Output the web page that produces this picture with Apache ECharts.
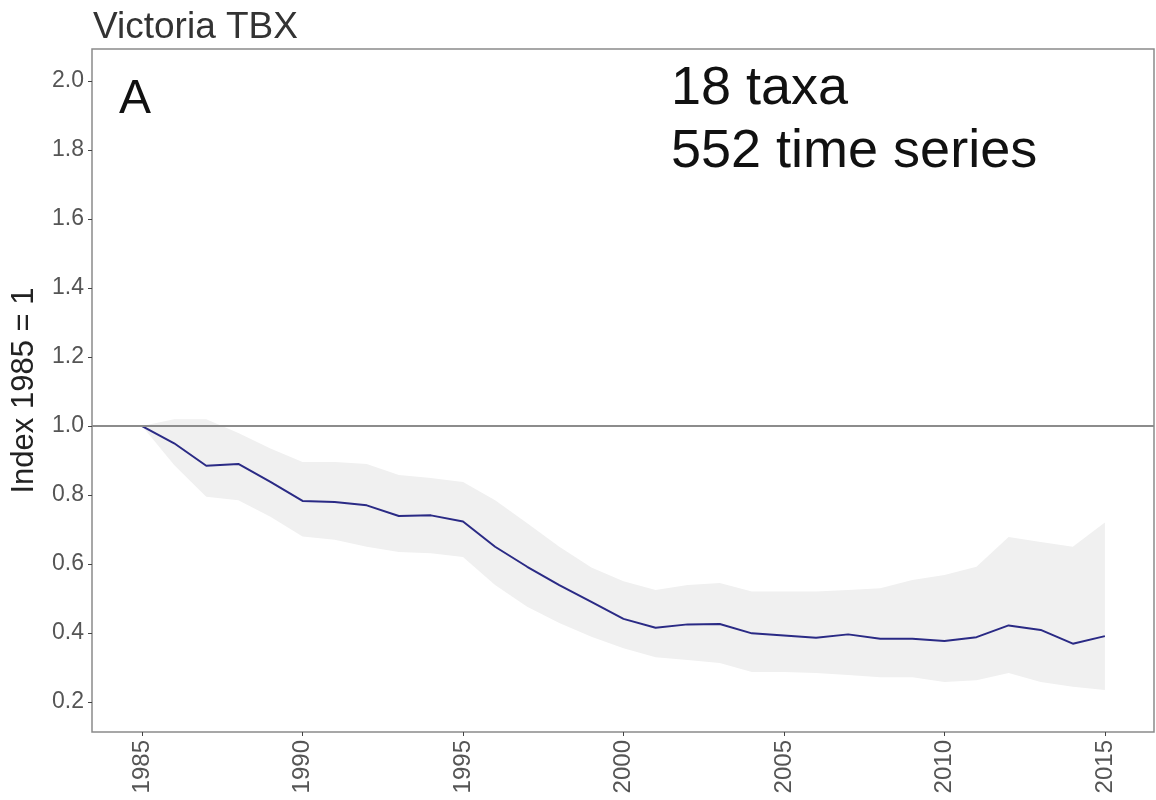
<!DOCTYPE html>
<html>
<head>
<meta charset="utf-8">
<title>Victoria TBX</title>
<script src="https://cdn.jsdelivr.net/npm/echarts@6/dist/echarts.min.js"></script>
<style>
  html, body { margin: 0; padding: 0; background: #fff; }
  #main { width: 1156px; height: 800px; }
</style>
</head>
<body>
<div id="main"></div>
<script>
// years of the index
var years = [1985, 1986, 1987, 1988, 1989, 1990, 1991, 1992, 1993, 1994, 1995,
  1996, 1997, 1998, 1999, 2000, 2001, 2002, 2003, 2004, 2005,
  2006, 2007, 2008, 2009, 2010, 2011, 2012, 2013, 2014, 2015]
// index value (1985 = 1)
var indexValues = [1.0, 0.95, 0.885, 0.89, 0.838, 0.783, 0.78, 0.77, 0.739, 0.741, 0.723,
  0.65, 0.592, 0.539, 0.49, 0.441, 0.415, 0.425, 0.426, 0.399, 0.393,
  0.386, 0.396, 0.383, 0.383, 0.377, 0.388, 0.422, 0.409, 0.369, 0.391]
// confidence band
var upperValues = [1.0, 1.02, 1.02, 0.98, 0.935, 0.896, 0.896, 0.89, 0.858, 0.849, 0.838,
  0.785, 0.718, 0.65, 0.59, 0.55, 0.525, 0.539, 0.545, 0.52, 0.52,
  0.52, 0.525, 0.53, 0.554, 0.568, 0.592, 0.678, 0.664, 0.65, 0.72]
var lowerValues = [1.0, 0.887, 0.795, 0.785, 0.737, 0.68, 0.67, 0.65, 0.635, 0.631, 0.62,
  0.539, 0.476, 0.429, 0.389, 0.356, 0.33, 0.322, 0.313, 0.287, 0.287,
  0.284, 0.278, 0.272, 0.272, 0.258, 0.263, 0.284, 0.258, 0.244, 0.235]
// tick labels
var xTicks = [1985, 1990, 1995, 2000, 2005, 2010, 2015]
var yTicks = [0.2, 0.4, 0.6, 0.8, 1.0, 1.2, 1.4, 1.6, 1.8, 2.0]

var chart = echarts.init(document.getElementById('main'))

var lineData = years.map(function (y, i) { return [y, indexValues[i]] })
var bandData = years.map(function (y, i) { return [y, lowerValues[i], upperValues[i]] })

var font = '"Liberation Sans", Arial, sans-serif'

// grey ribbon: one polygon, upper edge forward then lower edge back
function renderBand (params, api) {
  if (params.dataIndex !== 0) return
  var top = [], bottom = []
  for (var i = 0; i < bandData.length; i++) {
    top.push(api.coord([bandData[i][0], bandData[i][2]]))
    bottom.unshift(api.coord([bandData[i][0], bandData[i][1]]))
  }
  return {
    type: 'polygon',
    shape: { points: top.concat(bottom) },
    style: { fill: '#f0f0f0', stroke: null }
  }
}

var opt = {
  backgroundColor: '#fff',
  animation: false,
  title: {
    text: 'Victoria TBX',
    left: 88,
    top: 4,
    textStyle: { fontFamily: font, fontSize: 37, fontWeight: 'normal', color: '#333' }
  },
  grid: {
    show: true,
    left: 92,
    right: 2,
    top: 49,
    bottom: 68,
    outerBoundsMode: 'none',
    containLabel: false,
    borderColor: '#8a8a8a',
    borderWidth: 1.5
  },
  xAxis: {
    type: 'value',
    min: 1983.44,
    max: 2016.53,
    splitLine: { show: false },
    axisLine: { show: false },
    axisTick: { show: true, length: 4, customValues: xTicks, lineStyle: { color: '#444' } },
    axisLabel: {
      customValues: xTicks,
      rotate: 90,
      margin: 8,
      fontFamily: font,
      fontSize: 24,
      color: '#555',
      formatter: function (v) { return String(v) }
    }
  },
  yAxis: {
    type: 'value',
    min: 0.113,
    max: 2.093,
    name: 'Index 1985 = 1',
    nameLocation: 'middle',
    nameGap: 52,
    nameTextStyle: { fontFamily: font, fontSize: 31, color: '#222' },
    splitLine: { show: false },
    axisLine: { show: false },
    axisTick: { show: true, length: 4, customValues: yTicks, lineStyle: { color: '#444' } },
    axisLabel: {
      customValues: yTicks,
      margin: 8,
      fontFamily: font,
      fontSize: 23,
      color: '#555',
      formatter: function (v) { return v.toFixed(1) }
    }
  },
  graphic: [
    {
      type: 'text', left: 119, top: 76,
      style: { text: 'A', font: '48px ' + font, fill: '#111' }
    },
    {
      type: 'text', left: 671, top: 62,
      style: { text: '18 taxa', font: '54px ' + font, fill: '#111' }
    },
    {
      type: 'text', left: 671, top: 125,
      style: { text: '552 time series', font: '54px ' + font, fill: '#111' }
    }
  ],
  series: [
    {
      name: 'band',
      type: 'custom',
      data: bandData,
      encode: { x: 0, y: [1, 2] },
      renderItem: renderBand,
      silent: true,
      z: 1
    },
    {
      name: 'index',
      type: 'line',
      data: lineData,
      symbol: 'none',
      lineStyle: { color: '#2a2a85', width: 2 },
      z: 3,
      markLine: {
        silent: true,
        symbol: 'none',
        label: { show: false },
        lineStyle: { color: '#8c8c8c', width: 2, type: 'solid' },
        data: [{ yAxis: 1 }]
      }
    }
  ]
}

chart.setOption(opt)
</script>
</body>
</html>
